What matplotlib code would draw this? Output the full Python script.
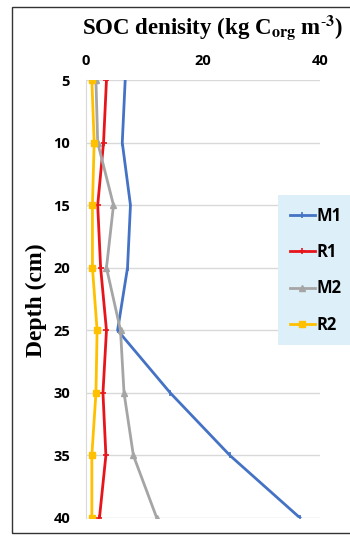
import matplotlib.pyplot as plt
from matplotlib.patches import Rectangle

depth = [5, 10, 15, 20, 25, 30, 35, 40]
m1 = [6.7, 6.2, 7.6, 7.1, 5.4, 14.4, 24.6, 36.6]
r1 = [3.5, 3.0, 2.0, 2.5, 3.5, 2.9, 3.4, 2.3]
m2 = [1.7, 2.0, 4.7, 3.5, 5.9, 6.5, 8.1, 12.1]
r2 = [1.0, 1.4, 1.1, 1.1, 1.9, 1.7, 1.0, 1.0]

fig = plt.figure(figsize=(3.5, 5.36), dpi=100)
ax = fig.add_axes([0.2457, 0.0336, 0.6686, 0.8171])

ax.plot(m1, depth, color='#4472C4', lw=2, marker='|', ms=5, mew=1.2, label='M1')
ax.plot(r1, depth, color='#E8141B', lw=2, marker='+', ms=5, mew=1.2, label='R1')
ax.plot(m2, depth, color='#A5A5A5', lw=2, marker='^', ms=4, label='M2')
ax.plot(r2, depth, color='#FFC000', lw=2, marker='s', ms=5, label='R2')

ax.set_xlim(0, 40)
ax.set_ylim(40, 5)
ax.set_xticks([0, 20, 40])
ax.set_yticks(depth)
ax.xaxis.tick_top()
ax.tick_params(axis='y', length=0, labelsize=10.5, pad=11.5)
ax.tick_params(axis='x', length=0, labelsize=10.5, pad=9)
for lab in ax.get_xticklabels() + ax.get_yticklabels():
    lab.set_fontweight('bold')
    lab.set_family('Open Sans')
ax.grid(axis='y', color='#D9D9D9', lw=1)
ax.set_axisbelow(True)
for s in ['top', 'right', 'bottom']:
    ax.spines[s].set_visible(False)
ax.spines['left'].set_color('#D9D9D9')

fig.text(0.607, 0.948, r'SOC denisity (kg C$_{\mathbf{org}}$ m$^{\mathbf{\text{-}3}}$)',
         ha='center', va='center', fontsize=16.5, fontweight='bold',
         family='Liberation Serif', math_fontfamily='stix')
fig.text(0.105, 0.44, 'Depth (cm)', rotation=90, ha='center', va='center',
         fontsize=17, fontweight='bold', family='Liberation Serif')

leg = fig.legend(loc='upper left', bbox_to_anchor=(0.794, 0.636), frameon=True,
                 fancybox=False, prop={'family': 'Open Sans', 'weight': 'bold', 'size': 12},
                 handlelength=1.5, handletextpad=0.1, labelspacing=1.1,
                 borderpad=0.7, borderaxespad=0)
leg.get_frame().set_facecolor('#DDEFF9')
leg.get_frame().set_edgecolor('none')
leg.get_frame().set_alpha(1)

fig.patches.append(Rectangle((0.034, 0.006), 1.2, 0.981, transform=fig.transFigure,
                             fill=False, edgecolor='#333333', lw=1))

fig.savefig('out.png', dpi=100)
